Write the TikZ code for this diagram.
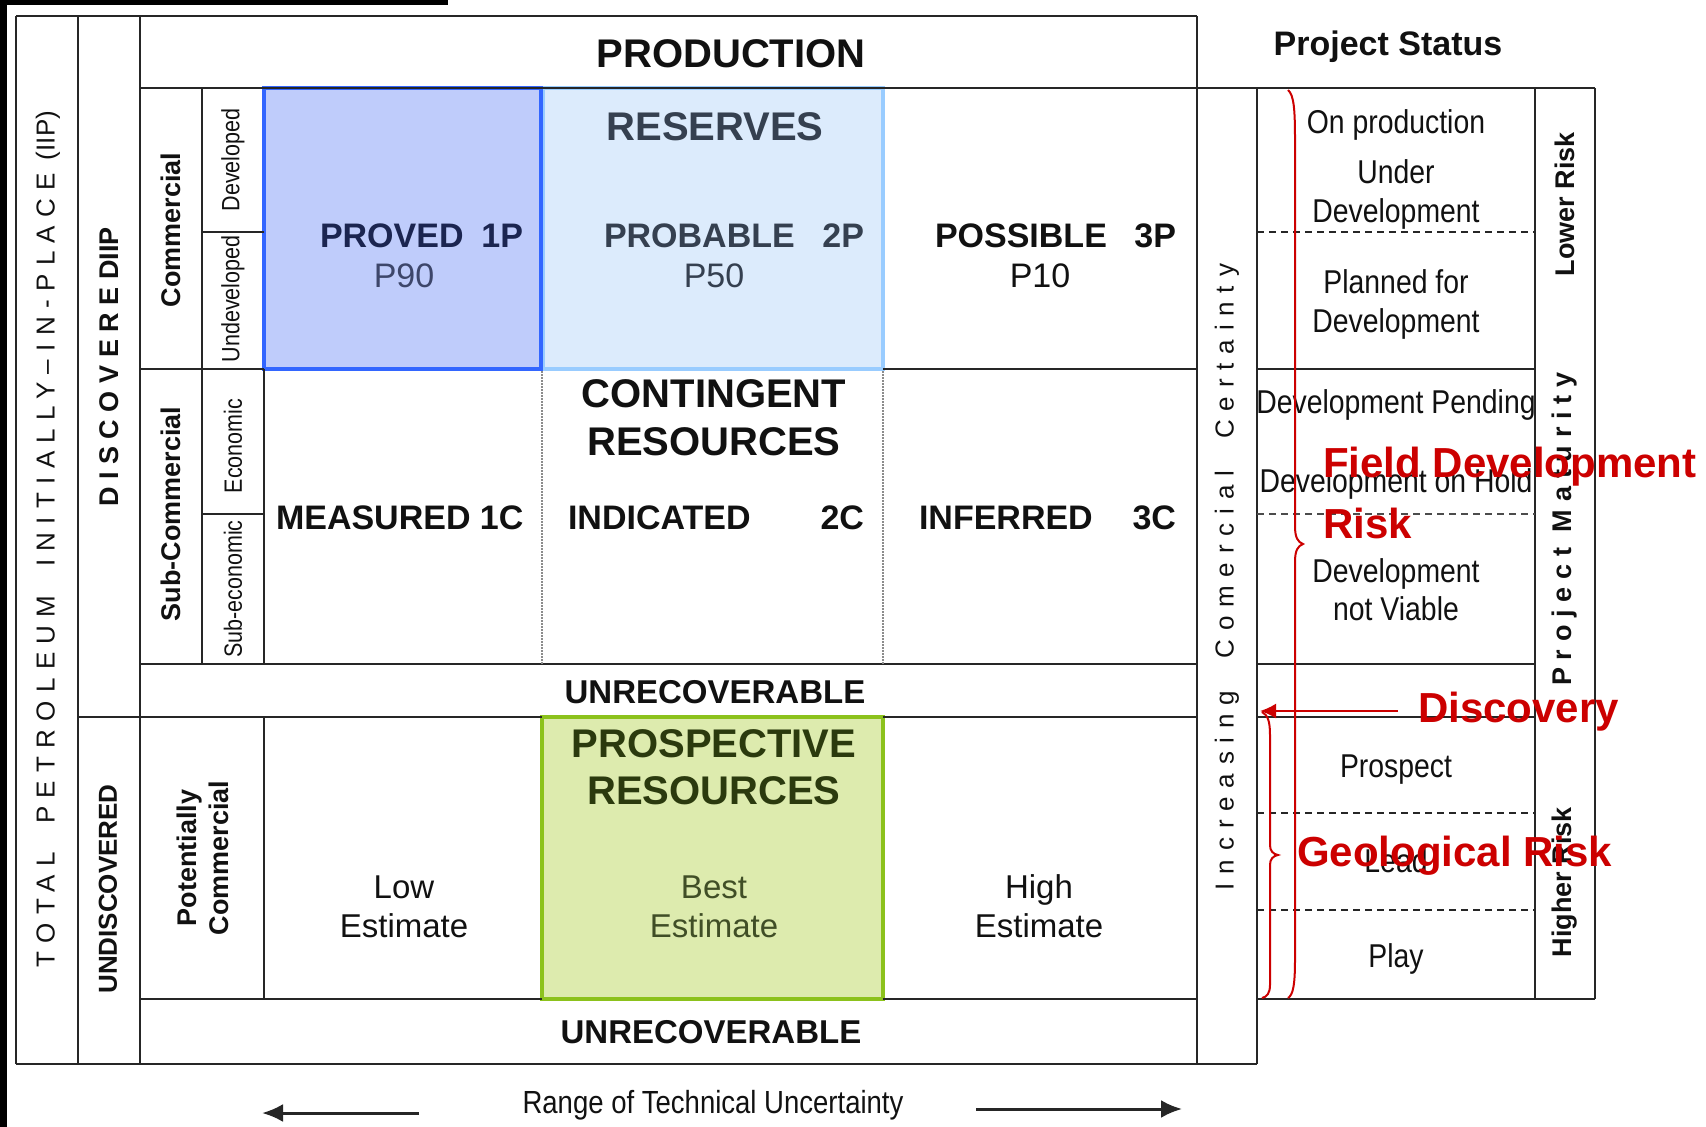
\documentclass[tikz,border=0pt]{standalone}
\usepackage{fontspec}
\setmainfont{Liberation Sans}
\newfontfamily\cond[FakeStretch=0.86]{Liberation Sans}
\usetikzlibrary{arrows.meta}

\definecolor{provedfill}{HTML}{BFCCFB}
\definecolor{provedline}{HTML}{3366FF}
\definecolor{probfill}{HTML}{DCEBFC}
\definecolor{probline}{HTML}{99CCFF}
\definecolor{prosfill}{HTML}{DDEBAE}
\definecolor{prosline}{HTML}{8CC21C}
\definecolor{navy}{HTML}{1B2550}
\definecolor{slate}{HTML}{354050}
\definecolor{olive}{HTML}{2B3A0E}
\definecolor{annot}{HTML}{CC0000}
\definecolor{rulecol}{HTML}{262626}
\definecolor{inkcol}{HTML}{111111}

\newcommand\fs[1]{\fontsize{#1}{#1}\selectfont}

\tikzset{
  rulel/.style={line width=2pt, draw=rulecol},
  dashl/.style={line width=2.5pt, draw=rulecol, dash pattern=on 7pt off 5pt},
  dotl/.style={line width=1.2pt, draw=black!45, dash pattern=on 1.5pt off 1.5pt},
  txt/.style={inner sep=0pt, outer sep=0pt, text=inkcol},
  big/.style={txt, font=\fs{40}\bfseries, anchor=base},
  mid/.style={txt, font=\fs{34}\bfseries, anchor=base},
  pval/.style={txt, font=\fs{34}, anchor=base},
  est/.style={txt, font=\fs{33}, anchor=base},
  stat/.style={txt, font=\cond\fs{33}, anchor=base},
  side/.style={txt, rotate=90},
  red/.style={inner sep=0pt, text=annot, font=\fs{42}\bfseries, anchor=base west},
  redline/.style={draw=annot, line width=2pt},
}

\begin{document}
\begin{tikzpicture}[x=1pt,y=-1pt]
\useasboundingbox (0,0) rectangle (1706,1127);
\fill[white] (0,0) rectangle (1706,1127);
% dark page edge
\fill[black] (0,0) rectangle (7,1127);
\fill[black] (0,0) rectangle (448,5);

% ---------- coloured category boxes ----------
\filldraw[fill=probfill, draw=probline, line width=3.5pt] (543,88) rectangle (883,369);
\filldraw[fill=provedfill, draw=provedline, line width=3.5pt] (264,88) rectangle (541,369);
\filldraw[fill=prosfill, draw=prosline, line width=4pt] (542,717) rectangle (883,999);

% ---------- table rules ----------
% horizontal
\draw[rulel] (16,16) -- (1197,16);
\draw[rulel] (140,88) -- (1595,88);
\draw[rulel] (140,369) -- (264,369);
\draw[rulel] (883,369) -- (1197,369);
\draw[rulel] (1257,369) -- (1535,369);
\draw[rulel] (140,664) -- (1197,664);
\draw[rulel] (1257,664) -- (1535,664);
\draw[rulel] (78,717) -- (542,717);
\draw[rulel] (883,717) -- (1197,717);
\draw[rulel] (1257,717) -- (1535,717);
\draw[rulel] (140,999) -- (542,999);
\draw[rulel] (883,999) -- (1197,999);
\draw[rulel] (1257,999) -- (1595,999);
\draw[rulel] (16,1064) -- (1257,1064);
\draw[rulel] (202,232) -- (264,232);
\draw[rulel] (202,514) -- (264,514);
% vertical
\draw[rulel] (16,16) -- (16,1064);
\draw[rulel] (78,16) -- (78,1064);
\draw[rulel] (140,16) -- (140,1064);
\draw[rulel] (202,88) -- (202,664);
\draw[rulel] (264,369) -- (264,664);
\draw[rulel] (264,717) -- (264,999);
\draw[rulel] (1197,16) -- (1197,1064);
\draw[rulel] (1257,88) -- (1257,1064);
\draw[rulel] (1535,88) -- (1535,999);
\draw[rulel] (1595,88) -- (1595,999);
% dotted column limits in the contingent row
\draw[dotl] (542,371) -- (542,664);
\draw[dotl] (883,371) -- (883,664);
% dashed status separators
\draw[dashl] (1257,232) -- (1535,232);
\draw[dashl, line width=1.6pt, draw=black!70] (1257,514) -- (1535,514);
\draw[dashl] (1257,813) -- (1535,813);
\draw[dashl] (1257,910) -- (1535,910);

% ---------- headings ----------
\node[big] (production) at (731,67) {PRODUCTION};
\node[big, text=slate] (reserves) at (715,140) {RESERVES};
\node[mid, text=navy, anchor=base west] (proved) at (320,247) {PROVED};
\node[mid, text=navy, anchor=base east] (onep) at (523,247) {1P};
\node[pval, text=navy!85!white] (p90) at (404,287) {P90};
\node[mid, text=slate, anchor=base west] (probable) at (604,247) {PROBABLE};
\node[mid, text=slate, anchor=base east] (twop) at (864,247) {2P};
\node[pval, text=slate] (p50) at (714,287) {P50};
\node[mid, anchor=base west] (possible) at (935,247) {POSSIBLE};
\node[mid, anchor=base east] (threep) at (1176,247) {3P};
\node[pval] (p10) at (1040,287) {P10};

\node[big] (contingent) at (714,407) {CONTINGENT};
\node[big] (contres) at (714,455) {RESOURCES};
\node[mid, anchor=base west] (measured) at (276,529) {MEASURED 1C};
\node[mid, anchor=base west] (indicated) at (568,529) {INDICATED};
\node[mid, anchor=base east] (twoc) at (864,529) {2C};
\node[mid, anchor=base west] (inferred) at (919,529) {INFERRED};
\node[mid, anchor=base east] (threec) at (1176,529) {3C};

\node[mid, font=\fs{33}\bfseries] (unrecA) at (715,703) {UNRECOVERABLE};
\node[big, text=olive] (prospective) at (714,757) {PROSPECTIVE};
\node[big, text=olive] (prosres) at (714,804) {RESOURCES};
\node[est] (low) at (404,898) {Low};
\node[est] (lowest) at (404,937) {Estimate};
\node[est, text=olive!90!white] (best) at (714,898) {Best};
\node[est, text=olive!90!white] (bestest) at (714,937) {Estimate};
\node[est] (high) at (1039,898) {High};
\node[est] (highest) at (1039,937) {Estimate};
\node[mid, font=\fs{33}\bfseries] (unrecB) at (711,1043) {UNRECOVERABLE};

% ---------- side labels ----------
\node[side, font=\fs{26}] (tpiip) at (48,539)
  {{\addfontfeature{LetterSpace=32}TOTAL\hspace{0.5em} PETROLEUM\hspace{0.5em} INITIALLY–IN-PLACE}\hspace{0.5em}(IIP)};
\node[side, font=\fs{27}\bfseries] (discovered) at (109,367)
  {{\addfontfeature{LetterSpace=28}DISCOVERED}IIP};
\node[side, font=\fs{26}\bfseries] (undiscovered) at (108,889) {UNDISCOVERED};
\node[side, font=\fs{27}\bfseries] (commercial) at (171,230) {Commercial};
\node[side, font=\cond\fs{25}] (developed) at (233,160) {Developed};
\node[side, font=\cond\fs{25}] (undeveloped) at (233,299) {Undeveloped};
\node[side, font=\fs{27}\bfseries] (subcom) at (171,514) {Sub-Commercial};
\node[side, font=\cond\fs{25}] (economic) at (233,446) {Economic};
\node[side, font=\cond\fs{25}] (subeco) at (233,589) {Sub-economic};
\node[side, align=center, font=\fontsize{27}{32}\selectfont\bfseries] (potcom) at (203,858)
  {Potentially\\Commercial};
\node[side, font=\fs{26}] (certainty) at (1227,577)
  {\addfontfeature{LetterSpace=34}Increasing\ \ Comercial\ \ Certainty};
\node[side, font=\fs{27}\bfseries] (lowrisk) at (1565,204) {Lower Risk};
\node[side, font=\fs{27}\bfseries] (maturity) at (1565,529)
  {\addfontfeature{LetterSpace=29}Project Maturity};
\node[side, font=\fs{27}\bfseries] (highrisk) at (1565,882) {Higher Risk};

% ---------- project status column ----------
\node[txt, font=\fs{34}\bfseries, anchor=base] (status) at (1388,55) {Project Status};
\node[stat] (onprod) at (1396,133) {On production};
\node[stat] (under) at (1396,183) {Under};
\node[stat] (underdev) at (1396,222) {Development};
\node[stat] (planned) at (1396,293) {Planned for};
\node[stat] (planneddev) at (1396,332) {Development};
\node[stat] (pending) at (1396,413) {Development Pending};
\node[stat] (hold) at (1396,492) {Development on Hold};
\node[stat] (notviable) at (1396,582) {Development};
\node[stat] (notviableb) at (1396,620) {not Viable};
\node[stat] (prospect) at (1396,777) {Prospect};
\node[stat] (lead) at (1396,872) {Lead};
\node[stat] (play) at (1396,967) {Play};

% ---------- technical uncertainty axis ----------
\node[txt, font=\cond\fs{32}, anchor=base] (range) at (713,1113) {Range of Technical Uncertainty};
\coordinate (lowTail) at (419,1113);
\coordinate (lowHead) at (262,1113);
\coordinate (highTail) at (976,1109);
\coordinate (highHead) at (1182,1109);
\draw[line width=3pt, draw=rulecol, -{Latex[length=21pt,width=18pt]}] (lowTail) -- (lowHead);
\draw[line width=3pt, draw=rulecol, -{Latex[length=21pt,width=18pt]}] (highTail) -- (highHead);

% ---------- risk annotations ----------
\draw[redline] (1288,90) .. controls (1294,95) and (1295,110) .. (1295,140)
  -- (1295,526) .. controls (1295,538) and (1298,542) .. (1303,544)
  .. controls (1298,546) and (1295,550) .. (1295,562)
  -- (1295,960) .. controls (1295,985) and (1293,995) .. (1288,998);
\draw[redline] (1262,712) .. controls (1268,715) and (1270,722) .. (1270,735)
  -- (1270,845) .. controls (1270,851) and (1273,854) .. (1278,855)
  .. controls (1273,856) and (1270,859) .. (1270,865)
  -- (1270,985) .. controls (1270,993) and (1267,997) .. (1262,998);
\coordinate (discTail) at (1398,711);
\coordinate (discHead) at (1260,711);
\draw[redline, -{Latex[length=16pt,width=15pt]}] (discTail) -- (discHead);
\node[red] (fdr) at (1323,477) {Field Development};
\node[red] (fdrisk) at (1323,538) {Risk};
\node[red] (discovery) at (1418,722) {Discovery};
\node[red] (georisk) at (1297,866) {Geological Risk};
\end{tikzpicture}
\end{document}
